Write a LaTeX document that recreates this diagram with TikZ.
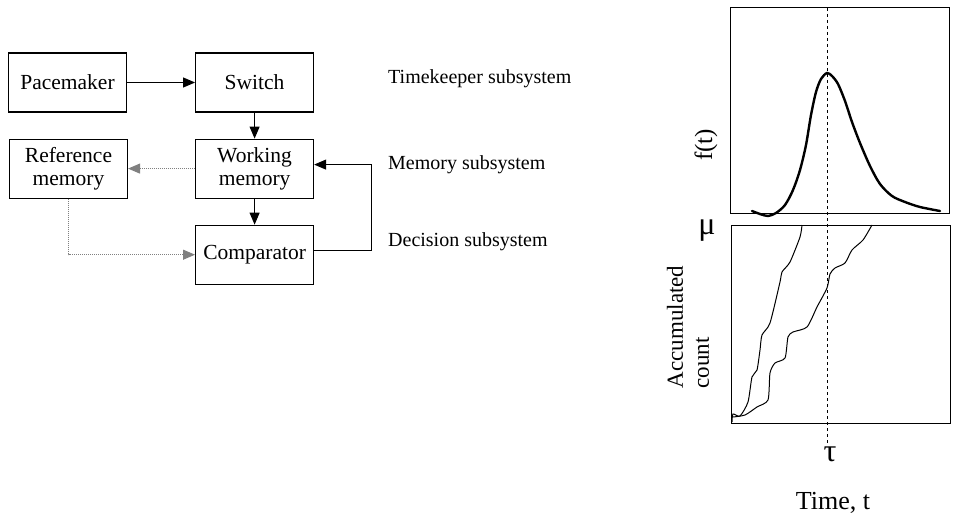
\documentclass[tikz,border=0pt]{standalone}
\usepackage{fontspec}
\setmainfont{Liberation Serif}
\usetikzlibrary{arrows.meta,positioning}

\begin{document}
\begin{tikzpicture}[x=1pt,y=-1pt, >={Triangle[length=12pt,width=10pt]},
    every node/.style={font=\fontsize{21.5}{23}\selectfont},
    block/.style={draw,line width=1.1pt,minimum width=118pt,minimum height=59pt,align=center,inner sep=2pt},
    side/.style={anchor=west,inner sep=0pt,font=\fontsize{20}{22}\selectfont},
    refline/.style={densely dotted,gray,line width=1pt} ]
    \useasboundingbox (0,0) rectangle (954,519);
    % block diagram
    \node[block] (pacemaker) at (67.5,82.5) {Pacemaker};
    \node[block,right=68pt of pacemaker] (switch) {Switch};
    \node[block,below=26pt of switch] (working) {Working\\memory};
    \node[block,left=67pt of working] (reference) {Reference\\memory};
    \node[block,below=26pt of working] (comparator) {Comparator};
    \draw[->,line width=1pt] (pacemaker) -- (switch);
    \draw[->,line width=1pt] (switch) -- (working);
    \draw[->,line width=1pt] (working) -- (comparator);
    \draw[->,refline] (working) -- (reference);
    \draw[->,refline] (reference) |- (comparator);
    \draw[->,line width=1pt] ([yshift=4pt]comparator.east) -- ++(57,0) |- ([yshift=4pt]working.east);
    \node[side] (timekeeper) at (388,79) {Timekeeper subsystem};
    \node[side] (memory) at (388,165) {Memory subsystem};
    \node[side] (decision) at (388,242) {Decision subsystem};
    % plots
    \draw[line width=1pt] (730,8) rectangle (949,213);
    \draw[line width=1pt] (731,225) rectangle (950,423);
    \draw[dashed,line width=0.8pt] (827,8) -- (827,445);
    \draw[line width=2.4pt,line cap=round] plot[smooth,tension=0.5] coordinates {
        (752,211) (760,214) (768,216) (776,213) (785,205) (793,190) (800,170)
        (806,145) (811,115) (816,92) (821,79) (827,73) (832,76) (838,84)
        (845,101) (852,122) (860,143) (870,166) (880,184) (892,196)
        (905,202) (920,207) (940,211)};
    \draw[line width=1pt] plot[smooth,tension=0.4] coordinates {
        (732,422) (733,414) (740,416) (748,402) (752,377) (757,370) (760,350)
        (762,335) (770,323) (780,282) (782,272) (790,262) (800,237) (802,225)};
    \draw[line width=1pt] plot[smooth,tension=0.4] coordinates {
        (733,417) (745,415) (757,407) (768,400) (770,373) (775,363) (785,358)
        (788,337) (793,332) (807,327) (817,307) (827,288) (830,274) (835,268)
        (845,263) (852,250) (863,240) (872,225)};
    \node[rotate=90,font=\fontsize{25}{27}\selectfont] (ft) at (706,145) {f(t)};
    \node[font=\fontsize{32}{34}\selectfont] (mu) at (707,231) {μ};
    \node[rotate=90,align=left,inner sep=0pt,font=\fontsize{23}{26}\selectfont] (acc) at (688,327) {Accumulated\\count};
    \node[font=\fontsize{32}{34}\selectfont] (tau) at (830,454) {τ};
    \node[font=\fontsize{26}{28}\selectfont] (time) at (833,503) {Time, t};
\end{tikzpicture}
\end{document}
